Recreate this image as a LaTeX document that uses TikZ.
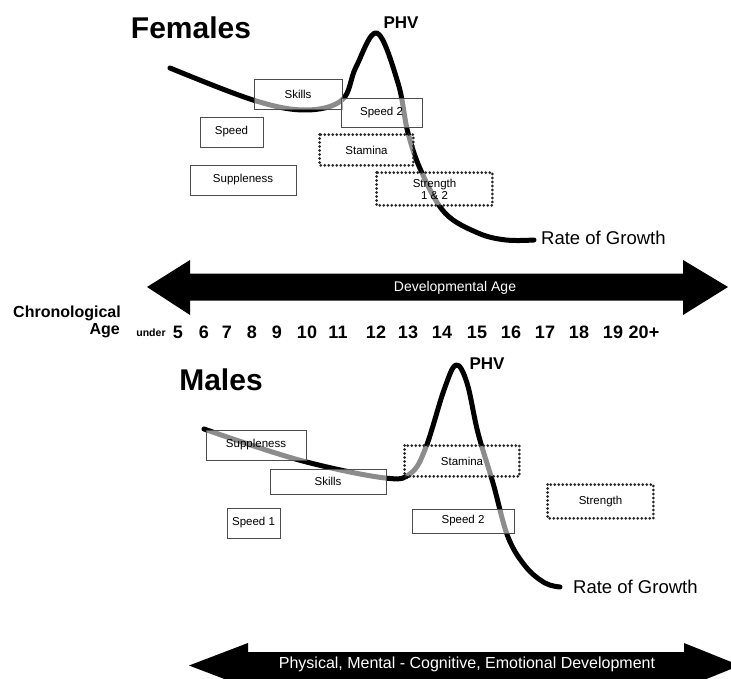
\documentclass[tikz,border=0pt]{standalone}
\usepackage{fontspec}
\setmainfont{Liberation Sans}
\usepackage{tikz}
\usetikzlibrary{positioning}

\tikzset{
  stagebox/.style={draw=black!70,line width=0.8pt,fill=white,fill opacity=0.55,
    text opacity=1,font=\fontsize{11.5}{12}\selectfont,inner sep=0pt,align=center},
  dotbox/.style={stagebox,draw=none},
  dotframe/.style={draw=black!85,line width=3pt,line cap=round,dash pattern=on 0pt off 4pt},
  growth/.style={line width=5pt,line cap=round,line join=round},
  sexlabel/.style={font=\bfseries\fontsize{30}{30}\selectfont,inner sep=0pt},
  phv/.style={font=\bfseries\fontsize{17}{17}\selectfont,inner sep=0pt},
  rate/.style={font=\fontsize{18.5}{19}\selectfont,inner sep=0pt,anchor=west},
  agenum/.style={font=\bfseries\fontsize{18}{18}\selectfont,inner sep=0pt},
  agehead/.style={font=\bfseries\fontsize{16}{16}\selectfont,inner sep=0pt,anchor=east},
  arrowtext/.style={text=white,inner sep=0pt}
}

\begin{document}
\begin{tikzpicture}[x=1pt,y=-1pt]
   \clip (0,0) rectangle (731,679);
   \useasboundingbox (0,0) rectangle (731,679);

   % females
   \node[sexlabel] (females) at (191,28) {Females};
   \draw[growth] plot[smooth,tension=0.6] coordinates {(170,68) (253,100) (305,110) (342,100)
      (356,67) (377,33) (398,83) (408,133) (422,173) (445,213) (478,233) (506,240) (534,240)};
   \node[phv] (fphv) at (401,23) {PHV};
   \node[rate] (frate) at (541,238) {Rate of Growth};

   \node[stagebox,minimum width=88pt,minimum height=30pt] (fskills) at (298,94) {Skills};
   \node[stagebox,minimum width=81pt,minimum height=29pt] (fspeedb) at (381.5,112.5) {Speed 2};
   \node[stagebox,minimum width=63pt,minimum height=30pt] (fspeed) at (231.5,132) {Speed};
   \node[dotbox,minimum width=93pt,minimum height=30pt] (fstamina) at (366.5,150) {Stamina};
   \node[stagebox,minimum width=106pt,minimum height=30pt] (fsupple) at (243,180) {Suppleness};
   \node[dotbox,minimum width=115pt,minimum height=32pt] (fstrength) at (434.5,189) {Strength\\[0pt]1 \& 2};
   \draw[dotframe] (fstamina.north west) rectangle (fstamina.south east);
   \draw[dotframe] (fstrength.north west) rectangle (fstrength.south east);

   % developmental age
   \fill (147,287) -- (190,260) -- (190,273.5) -- (683,273.5) -- (683,260) -- (728,287)
      -- (683,315) -- (683,300.5) -- (190,300.5) -- (190,315) -- cycle;
   \node[arrowtext,font=\fontsize{14}{14}\selectfont] (devage) at (455,288) {Developmental Age};

   \node[agehead] (chrono) at (121,313) {Chronological};
   \node[agehead] (age) at (120,331) {Age};
   \node[font=\bfseries\fontsize{10.5}{11}\selectfont,inner sep=0pt] (under) at (151,333) {under};
   \foreach \n/\x in {5/178,6/204,7/227,8/252,9/277,10/307,11/338,12/376,
                      13/408,14/442,15/477,16/511,17/545,18/579,19/613,20+/644}
      \node[agenum] (age\n) at (\x,332) {\n};

   % males
   \node[sexlabel] (males) at (221,380) {Males};
   \draw[growth] plot[smooth,tension=0.6] coordinates {(204,429) (299,460) (385,478) (411,473)
      (426,447) (444,390) (456,365) (467,383) (478,433) (493,483) (508,537) (526,567) (545,583) (560,587)};
   \node[phv] (mphv) at (487,364) {PHV};
   \node[rate] (mrate) at (573,587) {Rate of Growth};

   \node[stagebox,minimum width=100pt,minimum height=30pt] (msupple) at (256,445) {Suppleness};
   \node[stagebox,minimum width=116pt,minimum height=25pt] (mskills) at (328,481.5) {Skills};
   \node[dotbox,minimum width=114pt,minimum height=30pt] (mstamina) at (462,461) {Stamina};
   \node[dotbox,minimum width=105pt,minimum height=33pt] (mstrength) at (600.5,501.5) {Strength};
   \node[stagebox,minimum width=53pt,minimum height=30pt] (mspeed) at (253.5,523) {Speed 1};
   \node[stagebox,minimum width=102pt,minimum height=24pt] (mspeedb) at (463,521) {Speed 2};
   \draw[dotframe] (mstamina.north west) rectangle (mstamina.south east);
   \draw[dotframe] (mstrength.north west) rectangle (mstrength.south east);

   % overall development
   \fill (189,665.5) -- (248,643) -- (248,652) -- (684,652) -- (684,643) -- (740,665.5)
      -- (684,688) -- (684,679) -- (248,679) -- (248,688) -- cycle;
   \node[arrowtext,font=\fontsize{16}{16}\selectfont] (overall) at (467,664) {Physical, Mental - Cognitive, Emotional Development};
\end{tikzpicture}
\end{document}
